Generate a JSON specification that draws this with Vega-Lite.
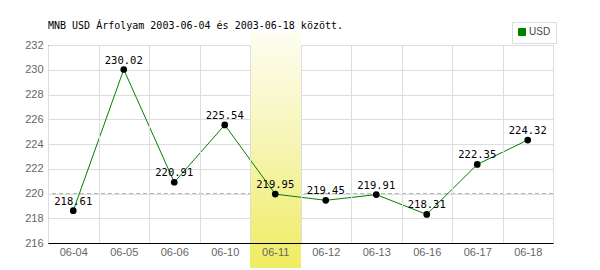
{
  "$schema": "https://vega.github.io/schema/vega-lite/v6.json",
  "autosize": {"type": "none"},
  "width": 505,
  "height": 198,
  "padding": {"left": 48, "top": 45, "right": 47, "bottom": 27},
  "background": "white",
  "title": {
    "text": "MNB USD Árfolyam 2003-06-04 és 2003-06-18 között.",
    "anchor": "start",
    "frame": "group",
    "orient": "top",
    "offset": -17,
    "baseline": "alphabetic",
    "font": "DejaVu Sans Mono",
    "fontSize": 10,
    "fontWeight": "normal",
    "color": "#000000"
  },
  "config": {
    "view": {"stroke": null},
    "axis": {
      "labelFont": "Liberation Sans",
      "labelFontSize": 11,
      "labelColor": "#666666",
      "ticks": false,
      "domainColor": "#000000",
      "domainWidth": 1,
      "gridColor": "#dddddd",
      "gridWidth": 1,
      "title": null,
      "labelOverlap": false
    }
  },
  "data": {
    "values": [
      {"date": "06-04", "rate": 218.61},
      {"date": "06-05", "rate": 230.02},
      {"date": "06-06", "rate": 220.91},
      {"date": "06-10", "rate": 225.54},
      {"date": "06-11", "rate": 219.95},
      {"date": "06-12", "rate": 219.45},
      {"date": "06-13", "rate": 219.91},
      {"date": "06-16", "rate": 218.31},
      {"date": "06-17", "rate": 222.35},
      {"date": "06-18", "rate": 224.32}
    ]
  },
  "encoding": {
    "x": {
      "field": "date",
      "type": "ordinal",
      "sort": null,
      "scale": {"type": "band", "paddingInner": 0, "paddingOuter": 0,
        "domain": ["06-04", "06-05", "06-06", "06-10", "06-11", "06-12", "06-13", "06-16", "06-17", "06-18"]},
      "axis": {"labelAngle": 0, "tickBand": "extent", "grid": true, "labelPadding": 3}
    },
    "y": {
      "field": "rate",
      "type": "quantitative",
      "scale": {"domain": [216, 232], "nice": false, "zero": false},
      "axis": {"values": [216, 218, 220, 222, 224, 226, 228, 230, 232], "grid": true, "labelPadding": 5, "tickCount": 9}
    }
  },
  "layer": [
    {
      "mark": {"type": "rule", "stroke": "#a8c0a8", "strokeDash": [4, 3], "strokeWidth": 1},
      "encoding": {
        "x": null,
        "y": {"datum": 220, "type": "quantitative"}
      }
    },
    {
      "mark": {
        "type": "rect",
        "fill": {
          "gradient": "linear", "x1": 0, "y1": 0, "x2": 0, "y2": 1,
          "stops": [
            {"offset": 0, "color": "#fdfdf2"},
            {"offset": 0.5, "color": "#f6f4b0"},
            {"offset": 1, "color": "#efec62"}
          ]
        }
      },
      "encoding": {
        "x": {"datum": "06-11", "type": "ordinal"},
        "y": {"datum": 233, "type": "quantitative"},
        "y2": {"datum": 214}
      }
    },
    {
      "mark": {"type": "line", "strokeWidth": 1},
      "encoding": {
        "color": {
          "datum": "USD",
          "scale": {"domain": ["USD"], "range": ["#008000"]},
          "legend": {
            "title": null,
            "orient": "none",
            "legendX": 464,
            "legendY": -23,
            "symbolType": "square",
            "symbolSize": 49,
            "labelFont": "Liberation Sans",
            "labelFontSize": 10,
            "labelColor": "#444444",
            "labelOffset": 2,
            "padding": 5,
            "strokeColor": "#dddddd",
            "fillColor": "#ffffff",
            "encode": {
              "symbols": {"update": {"fill": {"value": "#008000"}, "stroke": {"value": "#004000"}, "strokeWidth": {"value": 1}, "shape": {"value": "square"}}}
            }
          }
        }
      }
    },
    {
      "mark": {"type": "point", "filled": true, "color": "#000000", "size": 45, "opacity": 1},
      "encoding": {}
    },
    {
      "mark": {"type": "text", "font": "DejaVu Sans Mono", "fontSize": 10.5, "color": "#000000", "baseline": "alphabetic", "dy": -6},
      "encoding": {
        "text": {"field": "rate", "type": "quantitative", "format": ".2f"}
      }
    }
  ]
}
